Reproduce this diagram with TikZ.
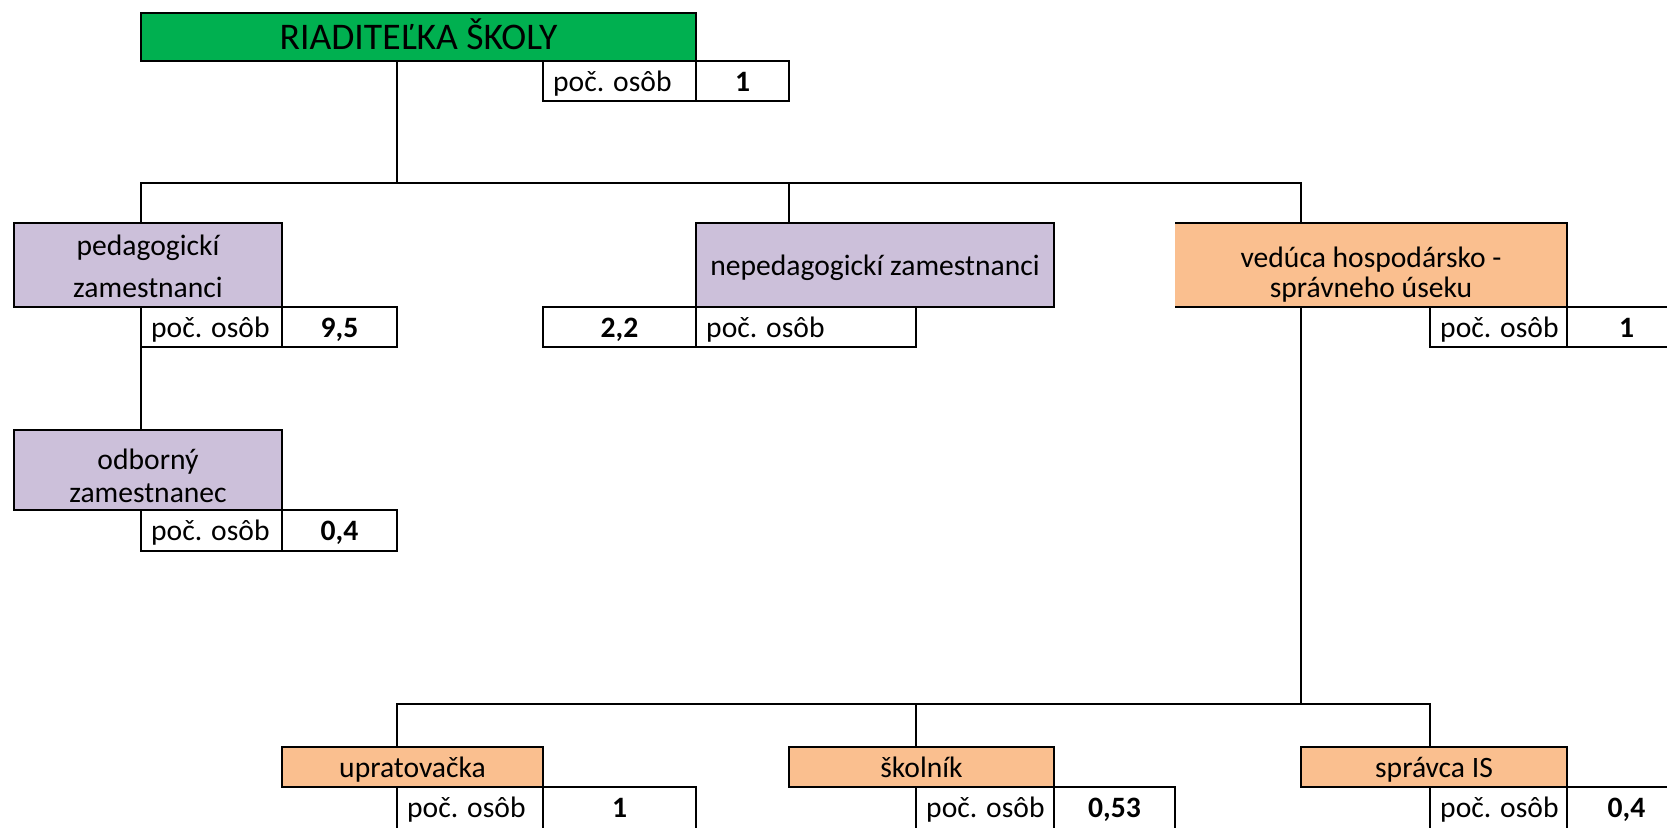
\documentclass[tikz,border=0pt]{standalone}
\usepackage{fontspec}
\setmainfont{Carlito}
\usetikzlibrary{fit}
\definecolor{dirgreen}{HTML}{00B050}
\definecolor{lilac}{HTML}{CCC0DA}
\definecolor{peach}{HTML}{FABF8F}
\newcommand\cellfont{\fontsize{29.6}{35}\selectfont}
\newcommand\headfont{\fontsize{37.6}{45}\selectfont}
\begin{document}
\begin{tikzpicture}[x=1pt,y=-1pt,
  conn/.style={line width=2pt},
  cell/.style={draw, line width=2pt, inner sep=0pt, outer sep=0pt},
  plain/.style={inner sep=0pt, outer sep=0pt},
  lbl/.style={font=\cellfont, inner sep=0pt, anchor=base},
  lblw/.style={font=\cellfont, inner sep=0pt, anchor=base west},
  num/.style={font=\cellfont\bfseries, inner sep=0pt, anchor=base}]
\useasboundingbox (0,0) rectangle (1667,827);
\fill[white] (0,0) rectangle (1667,827);
\clip (0,0) rectangle (1667,827);

% ---------- director ----------
\node[cell, fill=dirgreen, fit={(141,13) (696,61)}] (dir) {};
\node[lbl, font=\headfont] (dirT) at ([yshift=-12pt]dir.center) {RIADITEĽKA ŠKOLY};
\node[cell, fit={(543,61) (696,101)}] (dirL) {};
\node[cell, fit={(696,61) (789,101)}] (dirN) {};
\node[lblw] (dirLt) at ([xshift=10pt,yshift=-30pt]dirL.north west) {poč. osôb};
\node[num] (dirNt) at ([yshift=-30pt]dirN.north) {1};

% ---------- pedagogickí ----------
\node[cell, fill=lilac, fit={(14,223) (282,307)}] (ped) {};
\node[lbl] (pedA) at (ped.center |- 0,255) {pedagogickí};
\node[lbl] (pedB) at (ped.center |- 0,297) {zamestnanci};
\node[cell, fit={(141,307) (282,347)}] (pedL) {};
\node[cell, fit={(282,307) (397,347)}] (pedN) {};
\node[lblw] (pedLt) at ([xshift=10pt,yshift=-30pt]pedL.north west) {poč. osôb};
\node[num] (pedNt) at ([yshift=-30pt]pedN.north) {9,5};

% ---------- odborný ----------
\node[cell, fill=lilac, fit={(14,430) (282,510)}] (odb) {};
\node[lbl] (odbA) at (odb.center |- 0,469) {odborný};
\node[lbl] (odbB) at (odb.center |- 0,502) {zamestnanec};
\node[cell, fit={(141,510) (282,551)}] (odbL) {};
\node[cell, fit={(282,510) (397,551)}] (odbN) {};
\node[lblw] (odbLt) at ([xshift=10pt,yshift=-30pt]odbL.north west) {poč. osôb};
\node[num] (odbNt) at ([yshift=-30pt]odbN.north) {0,4};

% ---------- nepedagogickí ----------
\node[cell, fill=lilac, fit={(696,223) (1054,307)}] (nep) {};
\node[lbl] (nepT) at ([yshift=-10pt]nep.center) {nepedagogickí zamestnanci};
\node[cell, fit={(543,307) (696,347)}] (nepN) {};
\node[cell, fit={(696,307) (916,347)}] (nepL) {};
\node[num] (nepNt) at ([yshift=-30pt]nepN.north) {2,2};
\node[lblw] (nepLt) at ([xshift=10pt,yshift=-30pt]nepL.north west) {poč. osôb};

% ---------- vedúca ----------
\node[plain, fill=peach, fit={(1175,223) (1567,307)}] (ved) {};
\draw[conn] (ved.south west) -- (ved.south east) -- (ved.north east) -- (ved.north west);
\node[lbl] (vedA) at (ved.center |- 0,267) {vedúca hospodársko -};
\node[lbl] (vedB) at (ved.center |- 0,297) {správneho úseku};
\node[cell, fit={(1430,307) (1567,347)}] (vedL) {};
\node[cell, fit={(1567,307) (1686,347)}] (vedN) {};
\node[lblw] (vedLt) at ([xshift=10pt,yshift=-30pt]vedL.north west) {poč. osôb};
\node[num] (vedNt) at ([yshift=-30pt]vedN.north) {1};

% ---------- bottom row ----------
\node[cell, fill=peach, fit={(282,747) (543,787)}] (upr) {};
\node[lbl] (uprT) at ([yshift=-10pt]upr.center) {upratovačka};
\node[cell, fit={(397,787) (543,832)}] (uprL) {};
\node[cell, fit={(543,787) (696,832)}] (uprN) {};
\node[lblw] (uprLt) at ([xshift=10pt,yshift=-30pt]uprL.north west) {poč. osôb};
\node[num] (uprNt) at ([yshift=-30pt]uprN.north) {1};

\node[cell, fill=peach, fit={(789,747) (1054,787)}] (sko) {};
\node[lbl] (skoT) at ([yshift=-10pt]sko.center) {školník};
\node[cell, fit={(916,787) (1054,832)}] (skoL) {};
\node[cell, fit={(1054,787) (1175,832)}] (skoN) {};
\node[lblw] (skoLt) at ([xshift=10pt,yshift=-30pt]skoL.north west) {poč. osôb};
\node[num] (skoNt) at ([yshift=-30pt]skoN.north) {0,53};

\node[cell, fill=peach, fit={(1301,747) (1567,787)}] (spr) {};
\node[lbl] (sprT) at ([yshift=-10pt]spr.center) {správca IS};
\node[cell, fit={(1430,787) (1567,832)}] (sprL) {};
\node[cell, fit={(1567,787) (1686,832)}] (sprN) {};
\node[lblw] (sprLt) at ([xshift=10pt,yshift=-30pt]sprL.north west) {poč. osôb};
\node[num] (sprNt) at ([yshift=-30pt]sprN.north) {0,4};

% ---------- connectors ----------
\coordinate (hub) at (397,183);
\coordinate (tL) at (141,183);
\coordinate (tM) at (789,183);
\coordinate (tR) at (1301,183);
\coordinate (bL) at (397,704);
\coordinate (bM) at (916,704);
\coordinate (bV) at (1301,704);
\coordinate (bR) at (1430,704);

\draw[conn] (dir.south -| hub) -- (hub);
\draw[conn] (ped.north -| tL) -- (tL) -- (tR) -- (ved.north -| tR);
\draw[conn] (nep.north -| tM) -- (tM);
\draw[conn] (pedL.south west) -- (odb.north -| pedL.south west);
\draw[conn] (ved.south -| tR) -- (bV);
\draw[conn] (upr.north -| bL) -- (bL) -- (bR) -- (spr.north -| bR);
\draw[conn] (sko.north -| bM) -- (bM);
\end{tikzpicture}
\end{document}
